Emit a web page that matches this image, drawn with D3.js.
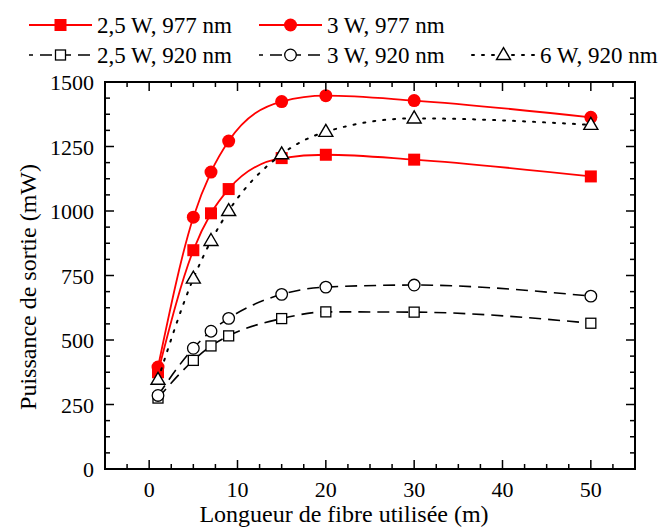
<!DOCTYPE html>
<html><head><meta charset="utf-8">
<script src="https://cdn.jsdelivr.net/npm/d3@7"></script>
<style>
body{margin:0;background:#fff}
svg{display:block}
svg text{font-family:"Liberation Serif","Times New Roman",Tinos,serif !important}
</style>
</head><body><svg id="c" width="663" height="530" style="font-family:'Liberation Serif',serif"></svg>
<script>
const fiberLength = [1, 5, 7, 9, 15, 20, 30, 50];
const p25w977 = [375, 848, 991, 1085, 1205, 1218, 1199, 1134];
const p3w977  = [395, 976, 1151, 1271, 1424, 1447, 1428, 1363];
const p25w920 = [275, 421, 477, 516, 583, 609, 608, 565];
const p3w920  = [285, 468, 534, 584, 677, 705, 713, 670];
const p6w920  = [346, 738, 884, 1000, 1220, 1307, 1359, 1334];
const xTickLabels = [0, 10, 20, 30, 40, 50];
const yTickLabels = [0, 250, 500, 750, 1000, 1250, 1500];
const seriesNames = ["2,5 W, 977 nm", "3 W, 977 nm", "2,5 W, 920 nm", "3 W, 920 nm", "6 W, 920 nm"];

const FONT = "Liberation Serif";
const svg = d3.select("#c");
const L = 105, R = 635, T = 82, B = 469;
const x = d3.scaleLinear().domain([-5, 55]).range([L, R]);
const y = d3.scaleLinear().domain([0, 1500]).range([B, T]);

const series = [
  {name: seriesNames[0], vals: p25w977, color: "#ff0000", dash: null, shape: "square", fill: "#ff0000", w: 1.8},
  {name: seriesNames[1], vals: p3w977, color: "#ff0000", dash: null, shape: "circle", fill: "#ff0000", w: 1.8},
  {name: seriesNames[2], vals: p25w920, color: "#000", dash: "12,7", shape: "square", fill: "#fff", w: 1.6},
  {name: seriesNames[3], vals: p3w920, color: "#000", dash: "12,7", shape: "circle", fill: "#fff", w: 1.6},
  {name: seriesNames[4], vals: p6w920, color: "#000", dash: "2,8", shape: "triangle", fill: "#fff", w: 2}
];

function marker(g, shape, cx, cy, s) {
  if (shape === "square") {
    const a = s.fill === "#fff" ? 10 : 12;
    g.append("rect").attr("x", cx - a/2).attr("y", cy - a/2).attr("width", a).attr("height", a)
      .attr("fill", s.fill).attr("stroke", s.fill === "#fff" ? "#000" : "none").attr("stroke-width", 1.3);
  } else if (shape === "circle") {
    const r = s.fill === "#fff" ? 5.8 : 6.5;
    g.append("circle").attr("cx", cx).attr("cy", cy).attr("r", r)
      .attr("fill", s.fill).attr("stroke", s.fill === "#fff" ? "#000" : "none").attr("stroke-width", 1.3);
  } else {
    const h = 12, w = 14;
    g.append("path").attr("d", `M${cx},${cy - h*0.62}L${cx + w/2},${cy + h*0.38}L${cx - w/2},${cy + h*0.38}Z`)
      .attr("fill", "#fff").attr("stroke", "#000").attr("stroke-width", 1.4);
  }
}

const line = d3.line().x(d => x(d[0])).y(d => y(d[1])).curve(d3.curveMonotoneX);
const plot = svg.append("g");
series.forEach(s => {
  const pts = fiberLength.map((f, i) => [f, s.vals[i]]);
  plot.append("path").attr("d", line(pts)).attr("fill", "none").attr("stroke", s.color)
    .attr("stroke-width", s.w).attr("stroke-dasharray", s.dash).attr("stroke-linecap", s.dash === "2,8" ? "round" : "butt");
  pts.forEach(p => marker(plot, s.shape, x(p[0]), y(p[1]), s));
});

// frame and ticks
const ax = svg.append("g");
ax.append("rect").attr("x", L).attr("y", T).attr("width", R - L).attr("height", B - T)
  .attr("fill", "none").attr("stroke", "#000").attr("stroke-width", 2);
const xMinor = d3.range(-2.5, 55, 2.5);
xMinor.forEach(v => {
  const maj = xTickLabels.includes(v);
  const len = maj ? 9 : 5;
  ax.append("line").attr("x1", x(v)).attr("x2", x(v)).attr("y1", B).attr("y2", B - len).attr("stroke", "#000").attr("stroke-width", 1.5);
  ax.append("line").attr("x1", x(v)).attr("x2", x(v)).attr("y1", T).attr("y2", T + len).attr("stroke", "#000").attr("stroke-width", 1.5);
});
const yMinor = d3.range(62.5, 1500, 62.5);
yMinor.forEach(v => {
  const maj = yTickLabels.includes(v);
  const len = maj ? 9 : 5;
  ax.append("line").attr("y1", y(v)).attr("y2", y(v)).attr("x1", L).attr("x2", L + len).attr("stroke", "#000").attr("stroke-width", 1.5);
  ax.append("line").attr("y1", y(v)).attr("y2", y(v)).attr("x1", R).attr("x2", R - len).attr("stroke", "#000").attr("stroke-width", 1.5);
});
function txt(g) { return g.append("text").attr("font-family", FONT).style("font-family", FONT); }
xTickLabels.forEach(v => txt(ax).attr("x", x(v)).attr("y", 497).attr("text-anchor", "middle").attr("font-size", 22).text(v));
yTickLabels.forEach(v => txt(ax).attr("x", 94).attr("y", y(v) + 8).attr("text-anchor", "end").attr("font-size", 22).text(v));

txt(svg).attr("x", 344).attr("y", 522).attr("text-anchor", "middle").attr("font-size", 24).text("Longueur de fibre utilisée (m)");
txt(svg).attr("transform", "translate(36,287) rotate(-90)").attr("text-anchor", "middle").attr("font-size", 24).text("Puissance de sortie (mW)");

// legend
const legPos = [[29, 25], [259, 25], [29, 55], [259, 55], [472, 55]];
const lg = svg.append("g");
series.forEach((s, i) => {
  const [lx, ly] = legPos[i];
  lg.append("line").attr("x1", lx).attr("x2", lx + 63).attr("y1", ly).attr("y2", ly)
    .attr("stroke", s.color).attr("stroke-width", s.w).attr("stroke-dasharray", s.dash)
    .attr("stroke-dashoffset", s.dash === "12,7" ? 8 : 0).attr("stroke-linecap", s.dash === "2,8" ? "round" : "butt");
  marker(lg, s.shape, lx + 31.5, ly, s);
  txt(lg).attr("x", lx + 68).attr("y", ly + 8).attr("font-size", 23).text(s.name);
});
</script></body></html>
